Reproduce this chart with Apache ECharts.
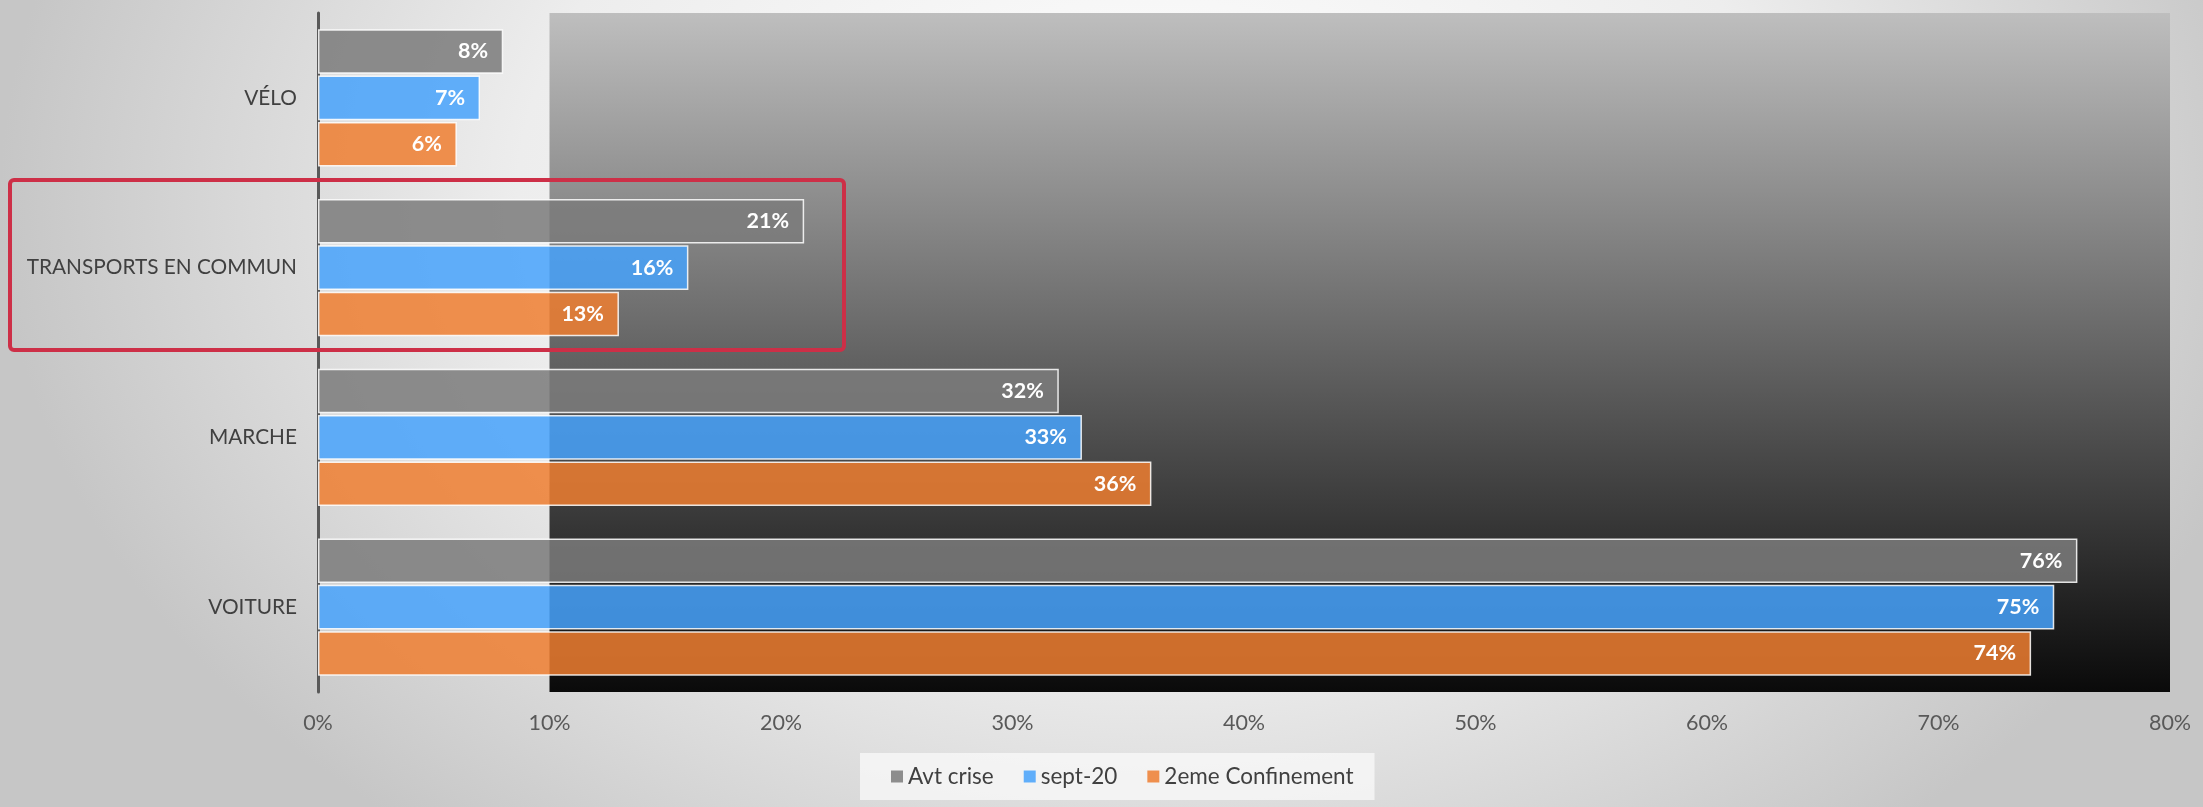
<!DOCTYPE html>
<html>
<head>
<meta charset="utf-8">
<script src="https://cdn.jsdelivr.net/npm/echarts@6/dist/echarts.min.js"></script>
<style>
  html, body { margin: 0; padding: 0; }
  #chart {
    width: 2203px; height: 807px;
    background: radial-gradient(ellipse 1150px 820px at 1150px 200px, #ffffff 0%, #ededed 55%, #c6c6c6 100%);
  }
</style>
</head>
<body>
<div id="chart"></div>
<script>
// ---- data ----
const categories = ['VÉLO', 'TRANSPORTS EN COMMUN', 'MARCHE', 'VOITURE'];
const seriesNames = ['Avt crise', 'sept-20', '2eme Confinement'];
const avtCrise = [8, 21, 32, 76];
const sept20 = [7, 16, 33, 75];
const confinement2 = [6, 13, 36, 74];
const xTicks = { min: 0, max: 80, interval: 10 };

const FONT = 'Lato, "Open Sans", sans-serif';
const colors = ['rgba(123,123,123,0.86)', 'rgba(70,162,251,0.85)', 'rgba(238,126,48,0.85)'];
const seriesData = [avtCrise, sept20, confinement2];

const chart = echarts.init(document.getElementById('chart'), null, { renderer: 'canvas' });

const series = seriesNames.map((name, i) => ({
  name: name,
  type: 'bar',
  data: seriesData[i],
  barCategoryGap: '19%',
  barGap: '4%',
  itemStyle: { color: colors[i], borderColor: 'rgba(255,255,255,0.85)', borderWidth: 1.5 },
  label: {
    show: true,
    position: 'insideRight',
    distance: 15,
    formatter: '{c}%',
    color: '#ffffff',
    fontFamily: FONT,
    fontWeight: 'bold',
    fontSize: 21.5
  },
  emphasis: { disabled: true },
  markArea: i === 0 ? {
    silent: true,
    z: 0,
    itemStyle: {
      color: new echarts.graphic.LinearGradient(0, 0, 0, 1, [
        { offset: 0, color: '#bebebe' },
        { offset: 1, color: '#0a0a0a' }
      ])
    },
    data: [[{ xAxis: 10 }, { xAxis: 80 }]]
  } : undefined
}));

chart.setOption({
  animation: false,
  backgroundColor: 'transparent',
  grid: { left: 318, right: 33, top: 13, bottom: 115, containLabel: false },
  legend: {
    data: seriesNames,
    left: 860,
    top: 753,
    padding: [12, 21, 12, 31],
    backgroundColor: 'rgba(250,250,250,0.75)',
    itemWidth: 12,
    itemHeight: 12,
    itemGap: 30,
    icon: 'rect',
    itemStyle: { borderWidth: 0 },
    textStyle: { color: '#404040', fontFamily: FONT, fontSize: 22.5 }
  },
  xAxis: {
    type: 'value',
    min: xTicks.min,
    max: xTicks.max,
    interval: xTicks.interval,
    axisLine: { show: false },
    axisTick: { show: false },
    splitLine: { show: false },
    axisLabel: {
      formatter: '{value}%',
      color: '#595959',
      fontFamily: FONT,
      fontSize: 21.5,
      margin: 20
    }
  },
  yAxis: {
    type: 'category',
    inverse: true,
    data: categories,
    axisLine: { show: true, lineStyle: { color: '#595959', width: 3 } },
    axisTick: { show: false },
    axisLabel: {
      color: '#404040',
      fontFamily: FONT,
      fontSize: 20.8,
      margin: 21
    }
  },
  graphic: [{
    type: 'rect',
    z: 100,
    silent: true,
    shape: { x: 10, y: 180, width: 834, height: 170, r: 4 },
    style: { fill: 'none', stroke: '#cd2f47', lineWidth: 4 }
  }],
  series: series
});
</script>
</body>
</html>
